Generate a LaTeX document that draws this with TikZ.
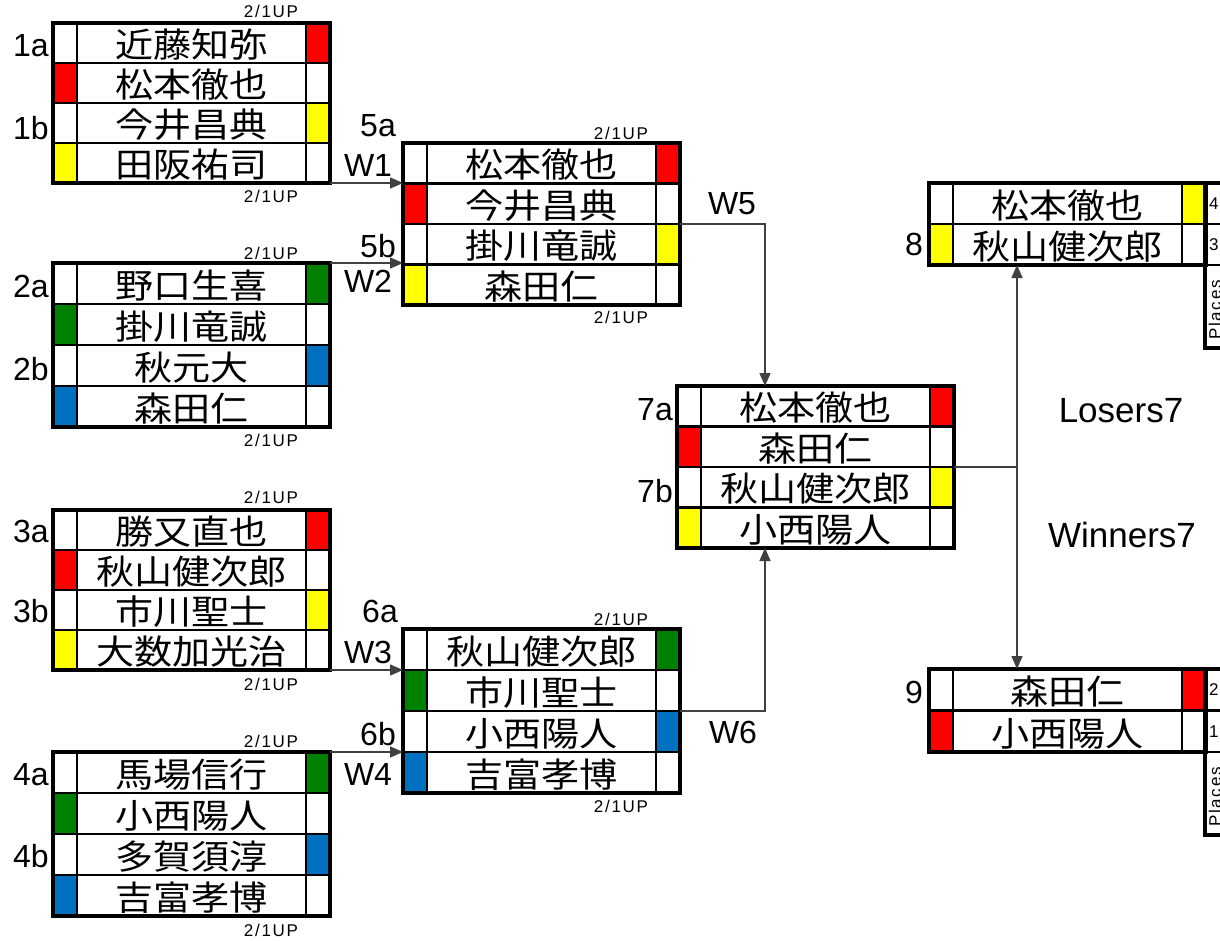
\documentclass[tikz,border=0pt]{standalone}
\usepackage{fontspec}
\setmainfont{Liberation Sans}
\newfontfamily\jpfont[FakeStretch=1.12]{Noto Sans CJK JP}
\newfontfamily\smallfont[LetterSpace=10]{Liberation Sans}
\usetikzlibrary{arrows.meta}
\definecolor{cR}{HTML}{FF0000}
\definecolor{cY}{HTML}{FFFF00}
\definecolor{cG}{HTML}{008000}
\definecolor{cB}{HTML}{0070C0}
\tikzset{
  cellline/.style={draw=black, line width=2.5pt},
  blockbox/.style={draw=black, line width=3.5pt, inner sep=0pt, outer sep=0pt, anchor=north west, minimum width=277pt},
  pname/.style={font=\jpfont\fontsize{34}{38}\selectfont, anchor=base, inner sep=0pt},
  lab/.style={font=\fontsize{32}{36}\selectfont, anchor=base, inner sep=0pt},
  biglab/.style={font=\fontsize{35}{38}\selectfont, anchor=base, inner sep=0pt},
  sm/.style={font=\smallfont\fontsize{17}{18}\selectfont, anchor=base, inner sep=0pt},
  conn/.style={draw=black!75, line width=1.5pt},
  tip/.style={-{Triangle[length=13pt,width=11pt]}},
}
% #1 node name, #2 x, #3 y0, #4 row height, #5 row index, #6 left colour, #7 text, #8 right colour
\newcommand{\prow}[8]{%
  \pgfmathsetmacro\ytop{#3+(#5-1)*#4}%
  \fill[#6] (#2,\ytop) rectangle ++(24,#4);
  \fill[#8] (#2+253,\ytop) rectangle ++(24,#4);
  \draw[cellline] (#2,\ytop) rectangle ++(277,#4) (#2+24,\ytop) -- ++(0,#4) (#2+253,\ytop) -- ++(0,#4);
  \node[pname] (#1) at (#2+138.5,\ytop+0.86*#4) {#7};
}
% #1 name, #2 x, #3 y0, #4 row height, #5 rows
\newcommand{\pblock}[5]{%
  \node[blockbox, minimum height={#4*#5pt}] (#1) at (#2,#3) {};
}
% places column: #1 name, #2 y0, #3 row height, #4 first digit, #5 second digit
\newcommand{\pplaces}[5]{%
  \pgfmathsetmacro\ymid{#2+#3}%
  \pgfmathsetmacro\ybot{#2+2*#3}%
  \draw[cellline] (1205,\ymid) -- (1260,\ymid) (1205,\ybot) -- (1260,\ybot);
  \node[blockbox, minimum width=55pt, minimum height={2*#3pt+83pt}] (#1) at (1205,#2) {};
  \node[sm, anchor=base west] (#1d1) at (1209,#2+0.5*#3+6) {#4};
  \node[sm, anchor=base west] (#1d2) at (1209,#2+1.5*#3+6) {#5};
  \node[sm, rotate=90, anchor=base west] (#1pl) at (1221,\ybot+75) {Places};
}
\begin{document}
\begin{tikzpicture}[x=1pt,y=-1pt]
\useasboundingbox (0,0) rectangle (1220,941);
\clip (0,0) rectangle (1220,941);
\fill[white] (0,0) rectangle (1220,941);

% Block 1
\prow{b1r1}{53}{23}{40}{1}{white}{近藤知弥}{cR}
\prow{b1r2}{53}{23}{40}{2}{cR}{松本徹也}{white}
\prow{b1r3}{53}{23}{40}{3}{white}{今井昌典}{cY}
\prow{b1r4}{53}{23}{40}{4}{cY}{田阪祐司}{white}
\pblock{b1}{53}{23}{40}{4}
% Block 2
\prow{b2r1}{53}{263}{41}{1}{white}{野口生喜}{cG}
\prow{b2r2}{53}{263}{41}{2}{cG}{掛川竜誠}{white}
\prow{b2r3}{53}{263}{41}{3}{white}{秋元大}{cB}
\prow{b2r4}{53}{263}{41}{4}{cB}{森田仁}{white}
\pblock{b2}{53}{263}{41}{4}
% Block 3
\prow{b3r1}{53}{510}{40}{1}{white}{勝又直也}{cR}
\prow{b3r2}{53}{510}{40}{2}{cR}{秋山健次郎}{white}
\prow{b3r3}{53}{510}{40}{3}{white}{市川聖士}{cY}
\prow{b3r4}{53}{510}{40}{4}{cY}{大数加光治}{white}
\pblock{b3}{53}{510}{40}{4}
% Block 4
\prow{b4r1}{53}{752}{41}{1}{white}{馬場信行}{cG}
\prow{b4r2}{53}{752}{41}{2}{cG}{小西陽人}{white}
\prow{b4r3}{53}{752}{41}{3}{white}{多賀須淳}{cB}
\prow{b4r4}{53}{752}{41}{4}{cB}{吉富孝博}{white}
\pblock{b4}{53}{752}{41}{4}
% Block 5
\prow{b5r1}{403}{143}{40.5}{1}{white}{松本徹也}{cR}
\prow{b5r2}{403}{143}{40.5}{2}{cR}{今井昌典}{white}
\prow{b5r3}{403}{143}{40.5}{3}{white}{掛川竜誠}{cY}
\prow{b5r4}{403}{143}{40.5}{4}{cY}{森田仁}{white}
\pblock{b5}{403}{143}{40.5}{4}
% Block 6
\prow{b6r1}{403}{629}{41}{1}{white}{秋山健次郎}{cG}
\prow{b6r2}{403}{629}{41}{2}{cG}{市川聖士}{white}
\prow{b6r3}{403}{629}{41}{3}{white}{小西陽人}{cB}
\prow{b6r4}{403}{629}{41}{4}{cB}{吉富孝博}{white}
\pblock{b6}{403}{629}{41}{4}
% Block 7
\prow{b7r1}{677}{386}{40.5}{1}{white}{松本徹也}{cR}
\prow{b7r2}{677}{386}{40.5}{2}{cR}{森田仁}{white}
\prow{b7r3}{677}{386}{40.5}{3}{white}{秋山健次郎}{cY}
\prow{b7r4}{677}{386}{40.5}{4}{cY}{小西陽人}{white}
\pblock{b7}{677}{386}{40.5}{4}
% Block 8
\prow{b8r1}{929}{183}{41}{1}{white}{松本徹也}{cY}
\prow{b8r2}{929}{183}{41}{2}{cY}{秋山健次郎}{white}
\pblock{b8}{929}{183}{41}{2}
\pplaces{p8}{183}{41}{4}{3}
% Block 9
\prow{b9r1}{929}{669}{41.5}{1}{white}{森田仁}{cR}
\prow{b9r2}{929}{669}{41.5}{2}{cR}{小西陽人}{white}
\pblock{b9}{929}{669}{41.5}{2}
\pplaces{p9}{669}{41.5}{2}{1}

% seed labels
\node[lab] (l1a) at (31,57) {1a};
\node[lab] (l1b) at (31,140) {1b};
\node[lab] (l2a) at (31,298) {2a};
\node[lab] (l2b) at (31,380) {2b};
\node[lab] (l3a) at (31,542) {3a};
\node[lab] (l3b) at (31,622) {3b};
\node[lab] (l4a) at (31,785) {4a};
\node[lab] (l4b) at (31,867) {4b};
\node[lab] (l5a) at (378,137) {5a};
\node[lab] (lw1) at (368,177) {W1};
\node[lab] (l5b) at (378,258) {5b};
\node[lab] (lw2) at (368,292) {W2};
\node[lab] (l6a) at (380,622) {6a};
\node[lab] (lw3) at (368,663) {W3};
\node[lab] (l6b) at (378,745) {6b};
\node[lab] (lw4) at (368,785) {W4};
\node[lab] (lw5) at (732,215) {W5};
\node[lab] (lw6) at (733,743) {W6};
\node[lab] (l7a) at (655,420) {7a};
\node[lab] (l7b) at (655,502) {7b};
\node[lab] (l8) at (914,255) {8};
\node[lab] (l9) at (914,703) {9};
\node[biglab] (llos) at (1121,422) {Losers7};
\node[biglab] (lwin) at (1122,547) {Winners7};

% score labels
\node[sm] (s1a) at (271,18) {2/1UP};
\node[sm] (s1b) at (271,203) {2/1UP};
\node[sm] (s2a) at (271,259) {2/1UP};
\node[sm] (s2b) at (271,446) {2/1UP};
\node[sm] (s3a) at (271,503) {2/1UP};
\node[sm] (s3b) at (271,690) {2/1UP};
\node[sm] (s4a) at (271,747) {2/1UP};
\node[sm] (s4b) at (271,936) {2/1UP};
\node[sm] (s5a) at (621,140) {2/1UP};
\node[sm] (s5b) at (621,323) {2/1UP};
\node[sm] (s6a) at (621,625) {2/1UP};
\node[sm] (s6b) at (621,812) {2/1UP};

% connectors
\coordinate (m7) at (765,0);
\coordinate (m89) at (1017,0);
\draw[conn,tip] (b1.south east) -- (b1.south east -| b5.west);
\draw[conn,tip] (b2.north east) -- (b2.north east -| b5.west);
\draw[conn,tip] (b3.south east) -- (b3.south east -| b6.west);
\draw[conn,tip] (b4.north east) -- (b4.north east -| b6.west);
\draw[conn,tip] (b5.east) -| (m7 |- b7.north);
\draw[conn,tip] (b6.east) -| (m7 |- b7.south);
\draw[conn] (b7.east) -- (b7.east -| m89);
\draw[conn,{Triangle[length=13pt,width=11pt]}-{Triangle[length=13pt,width=11pt]}] (m89 |- b8.south) -- (m89 |- b9.north);
\end{tikzpicture}
\end{document}
